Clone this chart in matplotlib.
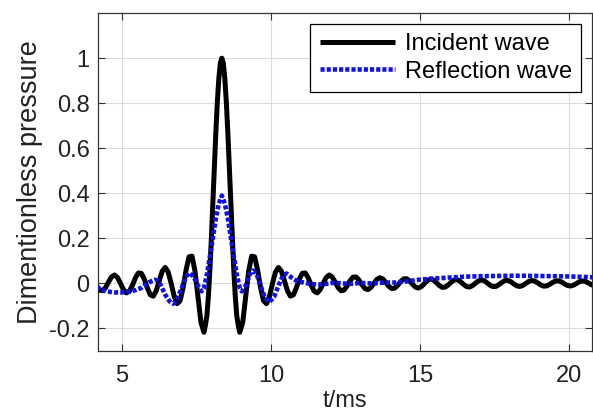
import numpy as np
import matplotlib
matplotlib.use("Agg")
import matplotlib.pyplot as plt

# ---- data ----
inc_t0 = 4.15      # first sample time of incident wave (ms)
inc_dt = 0.1       # sample step (ms)
incident = [
    -0.0117, -0.0296, -0.0325, -0.0182, 0.0066, 0.0292, 0.0374, 0.0260, 0.0, -0.0276,
    -0.0421, -0.0348, -0.0083, 0.0246, 0.0465, 0.0448, 0.0187, -0.0196, -0.0505, -0.0566,
    -0.0323, 0.0119, 0.0541, 0.0709, 0.0506, 0.0, -0.0570, -0.0898, -0.0771, -0.0190,
    0.0594, 0.1183, 0.1211, 0.0541, -0.0613, -0.1733, -0.2169, -0.1423, 0.0622, 0.3602,
    0.6739, 0.9107, 1.0,
    0.9107, 0.6739, 0.3602, 0.0622, -0.1423, -0.2169, -0.1733, -0.0613, 0.0541, 0.1211,
    0.1183, 0.0594, -0.0190, -0.0771, -0.0898, -0.0570, 0.0, 0.0506, 0.0709, 0.0541,
    0.0119, -0.0323, -0.0566, -0.0505, -0.0196, 0.0187, 0.0448, 0.0465, 0.0246, -0.0083,
    -0.0348, -0.0421, -0.0276, 0.0, 0.0260, 0.0374, 0.0292, 0.0066, -0.0182, -0.0325,
    -0.0296, -0.0117,
    0.0114, 0.0276, 0.0289, 0.0155, -0.0053, -0.0225, -0.0275, -0.0182, 0.0,
    0.0175, 0.0254, 0.0200, 0.0045, -0.0127, -0.0228, -0.0209, -0.0083, 0.0082, 0.0199,
    0.0210, 0.0113, -0.0039, -0.0166, -0.0204, -0.0136, 0.0,
    0.0132, 0.0193, 0.0152, 0.0034, -0.0098, -0.0176, -0.0161, -0.0064, 0.0064, 0.0155,
    0.0165, 0.0089, -0.0031, -0.0132, -0.0162, -0.0108, 0.0,
    0.0106, 0.0155, 0.0123, 0.0028, -0.0079, -0.0143, -0.0132, -0.0052, 0.0052, 0.0128,
    0.0136, 0.0073, -0.0025, -0.0109, -0.0135, -0.0090, 0.0,
    0.0089, 0.0130, 0.0103, 0.0023, -0.0067, -0.0121, -0.0111, -0.0044, 0.0044, 0.0108,
    0.0115, 0.0062, -0.0022, -0.0093, -0.0115, -0.0077, 0.0,
    0.0076, 0.0111, 0.0088, 0.0020, -0.0057, -0.0104,
]
# extra readings around the main peak of the incident wave
incident_peak_t = [7.80, 7.90, 8.00, 8.10, 8.20, 8.30, 8.40, 8.50, 8.60, 8.70, 8.80, 8.90]
incident_peak_v = [-0.185, -0.055, 0.204, 0.521, 0.807, 0.978, 0.978, 0.807, 0.521, 0.204, -0.055, -0.185]

reflect_t = [4.15, 4.3, 4.5, 4.75, 5.0, 5.25, 5.45, 5.65, 5.8, 5.95,
             6.1, 6.2, 6.3, 6.45, 6.6, 6.72, 6.85, 7.0, 7.15, 7.27,
             7.4, 7.55, 7.67, 7.75, 7.85, 7.95, 8.05, 8.15, 8.25, 8.35,
             8.45, 8.55, 8.65, 8.75, 8.85, 8.95, 9.02, 9.15, 9.28, 9.4,
             9.52, 9.65, 9.8, 9.95, 10.1, 10.25, 10.4, 10.52, 10.7, 10.9,
             11.1, 11.35, 11.6, 11.85, 12.1, 12.4, 12.7, 13.0, 13.4, 13.8,
             14.2, 14.6, 15.0, 15.5, 16.0, 16.5, 17.0, 17.5, 18.0, 18.5,
             19.0, 19.5, 20.0, 20.5, 20.85]
reflection = [-0.015, -0.028, -0.036, -0.040, -0.040, -0.036, -0.030, -0.020, -0.005, 0.008,
              0.016, 0.012, -0.008, -0.050, -0.080, -0.090, -0.070, -0.020, 0.030, 0.047,
              0.030, -0.010, -0.035, -0.020, 0.040, 0.120, 0.205, 0.290, 0.355, 0.390,
              0.355, 0.290, 0.205, 0.120, 0.040, -0.020, -0.035, -0.010, 0.040, 0.057,
              0.040, -0.010, -0.065, -0.082, -0.060, -0.010, 0.035, 0.044, 0.025, 0.008,
              0.004, -0.003, -0.005, -0.002, 0.003, 0.000, -0.002, 0.002, 0.000, 0.004,
              0.004, 0.010, 0.017, 0.022, 0.026, 0.030, 0.032, 0.033, 0.034, 0.034,
              0.033, 0.032, 0.031, 0.029, 0.027]

x_ticks = [5, 10, 15, 20]
y_ticks = [-0.2, 0, 0.2, 0.4, 0.6, 0.8, 1]
y_tick_labels = ["-0.2", "0", "0.2", "0.4", "0.6", "0.8", "1"]
series_labels = ["Incident wave", "Reflection wave"]

# ---- plot ----
plt.rcParams['font.family'] = ['Liberation Sans', 'DejaVu Sans']
FS = 17

fig = plt.figure(figsize=(5.93, 4.11), dpi=100)
ax = fig.add_axes([0.165, 0.146, 0.8328, 0.822])

inc_t = np.concatenate([inc_t0 + inc_dt * np.arange(len(incident)), incident_peak_t])
inc_v = np.concatenate([incident, incident_peak_v])
order = np.argsort(inc_t, kind='stable')
ax.plot(inc_t[order], inc_v[order], color='black', lw=3.6, solid_capstyle='butt',
        solid_joinstyle='round', label=series_labels[0], zorder=3)
ax.plot(reflect_t, reflection, color='#1010e8', lw=3.3, dashes=(0.9, 0.45),
        dash_capstyle='butt', dash_joinstyle='round', label=series_labels[1], zorder=4)

ax.set_xlim(4.19, 20.76)
ax.set_ylim(-0.3, 1.2)
ax.set_xticks(x_ticks)
ax.set_yticks(y_ticks)
ax.set_yticklabels(y_tick_labels)
ax.grid(True, color='#dcdcdc', lw=0.8)
ax.set_axisbelow(True)
ax.tick_params(direction='in', length=5, width=0.8, top=True, right=True,
               colors='#333333', labelcolor='#222222', labelsize=FS)
ax.tick_params(axis='x', pad=10)
ax.tick_params(axis='y', pad=6)
for s in ax.spines.values():
    s.set_color('#333333')
    s.set_linewidth(0.9)

ax.set_xlabel('t/ms', fontsize=FS, color='#222222', labelpad=2)
ax.set_ylabel('Dimentionless pressure', fontsize=FS + 2.5, color='#222222', labelpad=4)

leg = ax.legend(loc='upper right', fontsize=FS, frameon=True, fancybox=False,
                edgecolor='black', framealpha=1.0, handlelength=3.2,
                handletextpad=0.4, borderpad=0.4, labelspacing=0.23,
                borderaxespad=0.45)
leg.get_frame().set_linewidth(0.9)

fig.savefig('out.png', dpi=100)
